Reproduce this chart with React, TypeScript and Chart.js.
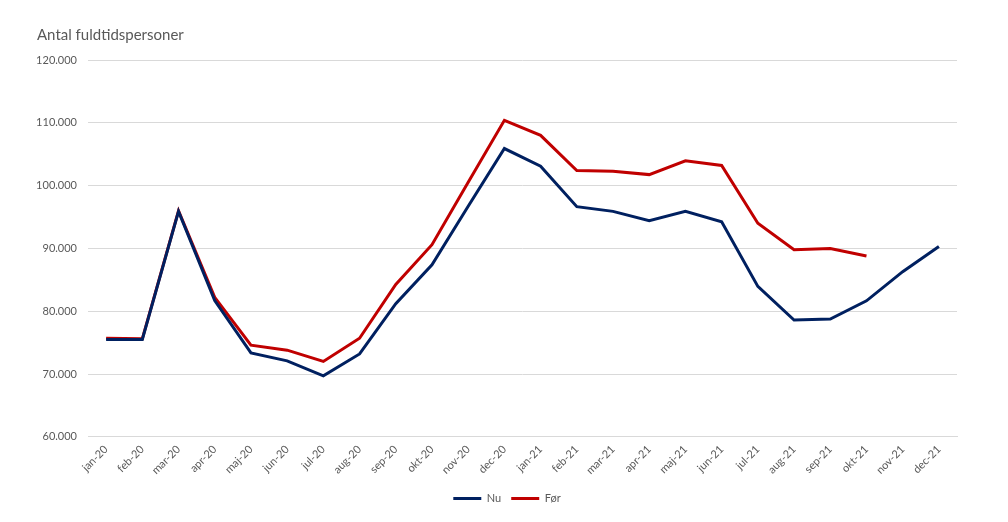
import React, { useEffect, useRef } from "react";
import { Chart, registerables } from "chart.js";

Chart.register(...registerables);

const categories = [
  "jan-20", "feb-20", "mar-20", "apr-20", "maj-20", "jun-20", "jul-20", "aug-20",
  "sep-20", "okt-20", "nov-20", "dec-20", "jan-21", "feb-21", "mar-21", "apr-21",
  "maj-21", "jun-21", "jul-21", "aug-21", "sep-21", "okt-21", "nov-21", "dec-21",
];

const nuValues = [
  75500, 75500, 95900, 81700, 73350, 72100, 69700, 73200,
  81200, 87400, 96700, 105900, 103100, 96650, 95900, 94400,
  95900, 94250, 83950, 78600, 78750, 81650, 86300, 90300,
];

const forValues: (number | null)[] = [
  75700, 75600, 96000, 82200, 74600, 73800, 72000, 75700,
  84250, 90600, 100550, 110400, 108000, 102400, 102300, 101750,
  103950, 103200, 94000, 89800, 90000, 88800, null, null,
];

const yTicks = { min: 60000, max: 120000, step: 10000 };

const titleText = "Antal fuldtidspersoner";
const seriesNames = ["Nu", "Før"];
const seriesColors = ["#002060", "#C00000"];

function fmt(v: number): string {
  const s = Math.round(v).toString();
  return s.replace(/\B(?=(\d{3})+(?!\d))/g, ".");
}

const legendShift = {
  id: "legendShift",
  afterLayout(chart: any) {
    if (chart.legend) {
      chart.legend.left += 10;
      chart.legend.right += 10;
    }
  },
};

export default function App() {
  const ref = useRef<HTMLCanvasElement | null>(null);

  useEffect(() => {
    if (!ref.current) return;
    const font = "Lato, 'Open Sans', sans-serif";
    const grey = "#595959";
    const chart = new Chart(ref.current, {
      type: "line",
      data: {
        labels: categories,
        datasets: [
          {
            label: seriesNames[0],
            data: nuValues,
            borderColor: seriesColors[0],
            backgroundColor: seriesColors[0],
            borderWidth: 3,
            pointRadius: 0,
            tension: 0,
          },
          {
            label: seriesNames[1],
            data: forValues,
            borderColor: seriesColors[1],
            backgroundColor: seriesColors[1],
            borderWidth: 3,
            pointRadius: 0,
            tension: 0,
            spanGaps: false,
          },
        ],
      },
      plugins: [legendShift],
      options: {
        animation: false,
        responsive: false,
        maintainAspectRatio: false,
        layout: { padding: { left: 37, right: 51, top: 0, bottom: 8 } },
        plugins: {
          title: {
            display: true,
            text: titleText,
            align: "start",
            color: grey,
            font: { family: font, size: 15, weight: "normal" },
            padding: { top: 26, bottom: 16 },
          },
          legend: {
            position: "bottom",
            labels: {
              color: grey,
              font: { family: font, size: 11 },
              boxWidth: 28,
              boxHeight: 3,
              padding: 10,
              generateLabels: (c: any) => {
                const items = Chart.defaults.plugins.legend.labels.generateLabels(c);
                return items.map((it: any) => ({ ...it, lineWidth: 0 }));
              },
            },
          },
          tooltip: { enabled: false },
        },
        scales: {
          x: {
            offset: true,
            grid: { display: false, drawTicks: false },
            border: { display: true, color: "#d9d9d9" },
            ticks: {
              color: grey,
              font: { family: font, size: 11 },
              minRotation: 45,
              maxRotation: 45,
              autoSkip: false,
              padding: 6,
            },
            afterFit: (s: any) => {
              s.paddingLeft = 0;
              s.paddingRight = 0;
            },
          },
          y: {
            min: yTicks.min,
            max: yTicks.max,
            grid: { color: "#d9d9d9", drawTicks: false, lineWidth: 1 },
            border: { display: false },
            ticks: {
              stepSize: yTicks.step,
              color: grey,
              font: { family: font, size: 11 },
              padding: 11,
              callback: (v: any) => fmt(Number(v)),
            },
            afterFit: (s: any) => {
              s.width = 51;
              s.paddingTop = 0;
              s.paddingBottom = 0;
            },
          },
        },
      },
    });
    return () => chart.destroy();
  }, []);

  return (
    <div style={{ position: "fixed", left: 0, top: 0, width: 1008, height: 522, background: "#fff" }}>
      <canvas ref={ref} width={1008} height={522} style={{ width: 1008, height: 522 }} />
    </div>
  );
}
